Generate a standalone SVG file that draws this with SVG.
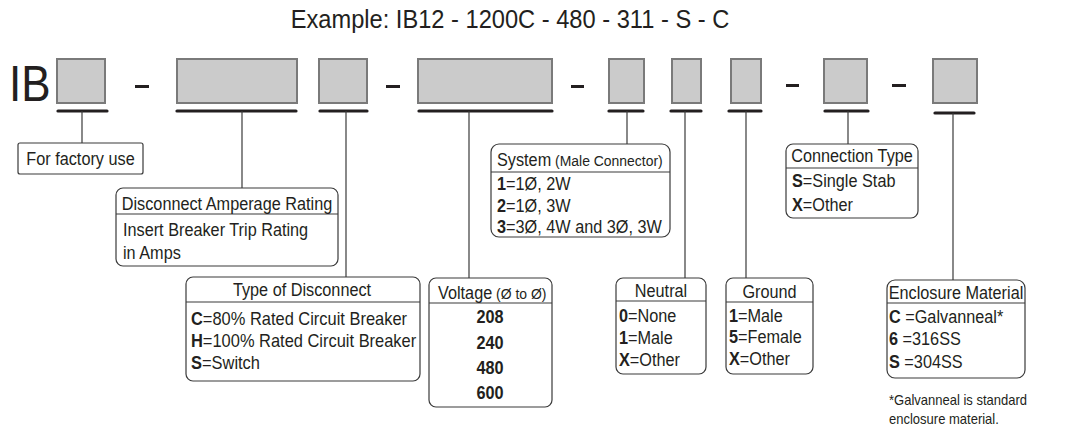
<svg xmlns="http://www.w3.org/2000/svg" width="1066" height="429" viewBox="0 0 1066 429">
<style>
text{font-family:"Liberation Sans",Arial,sans-serif;fill:#231f20;font-size:17.5px;transform:scaleX(0.93);transform-box:fill-box;transform-origin:left center}
text.c{text-anchor:middle;transform-origin:center center}
text.w{transform:scaleX(0.94)}
.slot{fill:#cbcbcb;stroke:#7a7a7a;stroke-width:2}
.ul{stroke:#231f20;stroke-width:3.2;stroke-linecap:round}
.dash{fill:#231f20}
.conn line{stroke:#3a3a3a;stroke-width:1.2}
.box{fill:#fff;stroke:#3a3a3a;stroke-width:1.2}
.div{stroke:#3a3a3a;stroke-width:1.2}
.b{font-weight:bold}
.sm{font-size:15px}
.fn{font-size:14px}
</style>
<text x="510" y="28" style="font-size:26px;transform:scaleX(0.91)" class="c">Example: IB12 - 1200C - 480 - 311 - S - C</text>
<g id="code">
<text x="9" y="101" style="font-size:50px;transform:scaleX(0.88)">IB</text>
<rect class="slot" x="57" y="59" width="48" height="44"/>
<rect class="slot" x="177" y="59" width="120" height="44"/>
<rect class="slot" x="319" y="59" width="48" height="44"/>
<rect class="slot" x="418" y="59" width="134" height="44"/>
<rect class="slot" x="609" y="59" width="35" height="44"/>
<rect class="slot" x="672" y="59" width="29" height="44"/>
<rect class="slot" x="731" y="59" width="30" height="44"/>
<rect class="slot" x="824" y="59" width="43" height="44"/>
<rect class="slot" x="933" y="59" width="44" height="44"/>
<rect class="dash" x="135" y="85" width="14" height="3"/>
<rect class="dash" x="386" y="85" width="14" height="3"/>
<rect class="dash" x="571" y="85" width="13" height="3"/>
<rect class="dash" x="786" y="84" width="13" height="3"/>
<rect class="dash" x="892" y="84" width="14" height="3"/>
<line class="ul" x1="58" y1="111" x2="107" y2="111"/>
<line class="ul" x1="177" y1="111" x2="296" y2="111"/>
<line class="ul" x1="320" y1="111" x2="367" y2="111"/>
<line class="ul" x1="419" y1="111" x2="552" y2="111"/>
<line class="ul" x1="609" y1="111" x2="643" y2="111"/>
<line class="ul" x1="671" y1="111" x2="701" y2="111"/>
<line class="ul" x1="729" y1="111" x2="761" y2="111"/>
<line class="ul" x1="825" y1="111" x2="868" y2="111"/>
<line class="ul" x1="935" y1="113" x2="974" y2="113"/>
</g>
<g id="connectors" class="conn">
<line x1="82" y1="111" x2="82" y2="143"/>
<line x1="242" y1="111" x2="242" y2="188"/>
<line x1="346" y1="111" x2="346" y2="277"/>
<line x1="469" y1="111" x2="469" y2="278"/>
<line x1="627" y1="111" x2="627" y2="144"/>
<line x1="685" y1="111" x2="685" y2="278"/>
<line x1="746" y1="111" x2="746" y2="278"/>
<line x1="848" y1="111" x2="848" y2="144"/>
<line x1="953" y1="113" x2="953" y2="280"/>
</g>
<g id="factory">
<rect class="box" x="18" y="143" width="125" height="31" rx="2"/>
<text x="80.5" y="165" class="c">For factory use</text>
</g>
<g id="amperage">
<rect class="box" x="116" y="188" width="222" height="78" rx="7"/>
<line class="div" x1="116" y1="214" x2="338" y2="214"/>
<text x="227" y="210" class="c">Disconnect Amperage Rating</text>
<text x="123" y="236">Insert Breaker Trip Rating</text>
<text x="123" y="259">in Amps</text>
</g>
<g id="disconnect">
<rect class="box" x="186" y="277" width="234" height="104" rx="7"/>
<line class="div" x1="186" y1="302" x2="420" y2="302"/>
<text x="302" y="296" class="c">Type of Disconnect</text>
<text x="191" y="325" class="w"><tspan class="b">C</tspan>=80% Rated Circuit Breaker</text>
<text x="191" y="347" class="w"><tspan class="b">H</tspan>=100% Rated Circuit Breaker</text>
<text x="191" y="369" class="w"><tspan class="b">S</tspan>=Switch</text>
</g>
<g id="voltage">
<rect class="box" x="429" y="278" width="123" height="129" rx="7"/>
<line class="div" x1="429" y1="303" x2="552" y2="303"/>
<text x="438" y="299">Voltage<tspan class="sm"> (Ø to Ø)</tspan></text>
<text x="490" y="323" class="c b">208</text>
<text x="490" y="349" class="c b">240</text>
<text x="490" y="374" class="c b">480</text>
<text x="490" y="399" class="c b">600</text>
</g>
<g id="system">
<rect class="box" x="491" y="144" width="179" height="93" rx="8"/>
<line class="div" x1="491" y1="172" x2="670" y2="172"/>
<text x="497" y="166">System<tspan class="sm"> (Male Connector)</tspan></text>
<text x="497" y="190"><tspan class="b">1</tspan>=1Ø, 2W</text>
<text x="497" y="212"><tspan class="b">2</tspan>=1Ø, 3W</text>
<text x="497" y="233"><tspan class="b">3</tspan>=3Ø, 4W and 3Ø, 3W</text>
</g>
<g id="neutral">
<rect class="box" x="616" y="278" width="90" height="96" rx="7"/>
<line class="div" x1="616" y1="301" x2="706" y2="301"/>
<text x="661" y="297" class="c">Neutral</text>
<text x="619" y="322"><tspan class="b">0</tspan>=None</text>
<text x="619" y="344"><tspan class="b">1</tspan>=Male</text>
<text x="619" y="366"><tspan class="b">X</tspan>=Other</text>
</g>
<g id="ground">
<rect class="box" x="726" y="278" width="87" height="96" rx="7"/>
<line class="div" x1="726" y1="302" x2="813" y2="302"/>
<text x="769.5" y="298" class="c">Ground</text>
<text x="729" y="322"><tspan class="b">1</tspan>=Male</text>
<text x="729" y="343"><tspan class="b">5</tspan>=Female</text>
<text x="729" y="365"><tspan class="b">X</tspan>=Other</text>
</g>
<g id="connection">
<rect class="box" x="786" y="144" width="132" height="74" rx="7"/>
<line class="div" x1="786" y1="168" x2="918" y2="168"/>
<text x="852" y="162" class="c">Connection Type</text>
<text x="792" y="187"><tspan class="b">S</tspan>=Single Stab</text>
<text x="792" y="211"><tspan class="b">X</tspan>=Other</text>
</g>
<g id="enclosure">
<rect class="box" x="887" y="280" width="138" height="98" rx="8"/>
<line class="div" x1="887" y1="303" x2="1025" y2="303"/>
<text x="956" y="299" class="c">Enclosure Material</text>
<text x="889" y="323"><tspan class="b">C</tspan> =Galvanneal*</text>
<text x="889" y="345"><tspan class="b">6</tspan> =316SS</text>
<text x="889" y="368"><tspan class="b">S</tspan> =304SS</text>
<text x="889" y="405" class="fn">*Galvanneal is standard</text>
<text x="889" y="424" class="fn">enclosure material.</text>
</g>
</svg>
